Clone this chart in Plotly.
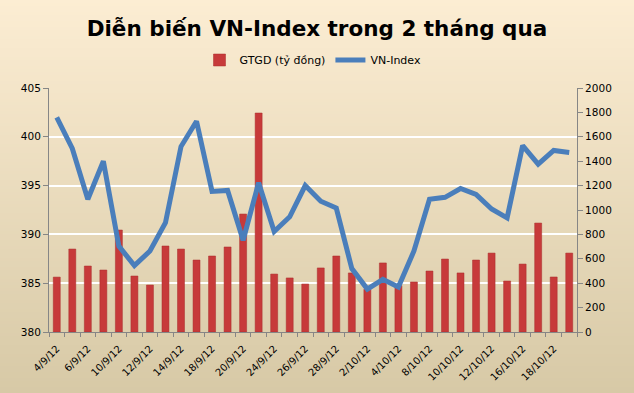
import plotly.graph_objects as go

dates = ["4/9/12", "5/9/12", "6/9/12", "7/9/12", "10/9/12", "11/9/12", "12/9/12", "13/9/12",
         "14/9/12", "17/9/12", "18/9/12", "19/9/12", "20/9/12", "21/9/12", "24/9/12", "25/9/12",
         "26/9/12", "27/9/12", "28/9/12", "1/10/12", "2/10/12", "3/10/12", "4/10/12", "5/10/12",
         "8/10/12", "9/10/12", "10/10/12", "11/10/12", "12/10/12", "15/10/12", "16/10/12",
         "17/10/12", "18/10/12", "19/10/12"]
gtgd = [450, 680, 541, 508, 836, 459, 385, 705, 680, 590, 623, 697, 967, 1795, 475, 443,
        393, 525, 623, 484, 350, 566, 380, 410, 500, 598, 484, 590, 647, 418, 557, 893, 451, 647]
vnindex = [402.0, 398.8, 393.6, 397.5, 388.8, 386.8, 388.3, 391.2, 399.0, 401.6, 394.4, 394.5,
           389.4, 395.3, 390.3, 391.8, 395.0, 393.4, 392.7, 386.5, 384.4, 385.4, 384.6, 388.3,
           393.6, 393.8, 394.7, 394.1, 392.6, 391.7, 399.1, 397.2, 398.6, 398.4]
left_ticks = [380, 385, 390, 395, 400, 405]
right_ticks = [0, 200, 400, 600, 800, 1000, 1200, 1400, 1600, 1800, 2000]

W, H = 634, 393
ML, MR, MT, MB = 49, 57, 88, 61
ph = H - MT - MB

idx = list(range(len(dates)))

fig = go.Figure()
fig.add_trace(go.Bar(
    x=idx, y=gtgd, name="GTGD (tỷ đồng)", yaxis="y", width=0.45,
    marker=dict(color="#C73A3A", line=dict(color="#A92C2C", width=0.5)),
))
fig.add_trace(go.Scatter(
    x=idx, y=vnindex, name="VN-Index", yaxis="y2", mode="lines",
    line=dict(color="#4A7EBB", width=5),
))

# gradient background via stripes
shapes = []
top = (252, 237, 211)
bot = (215, 201, 166)
step = 3
for p in range(0, H, step):
    t = (p + step / 2) / H
    c = tuple(round(top[i] + (bot[i] - top[i]) * t) for i in range(3))
    y0 = (H - MB - p) / ph
    y1 = (H - MB - (p + step)) / ph
    shapes.append(dict(type="rect", xref="paper", yref="paper",
                       x0=-ML / (W - ML - MR) - 0.01, x1=1 + MR / (W - ML - MR) + 0.01,
                       y0=y1, y1=y0, line=dict(width=0),
                       fillcolor="rgb(%d,%d,%d)" % c, layer="below"))

tick_font = dict(family="DejaVu Sans", size=10.5, color="#000000")

fig.update_layout(
    width=W, height=H,
    margin=dict(l=ML, r=MR, t=MT, b=MB, autoexpand=False),
    paper_bgcolor="rgb(240,226,195)",
    plot_bgcolor="rgba(0,0,0,0)",
    shapes=shapes,
    title=dict(text="<b>Diễn biến VN-Index trong 2 tháng qua</b>",
               font=dict(family="DejaVu Sans", size=21.5, color="#000000"),
               x=0.5, xanchor="center", y=1 - 28 / H, yanchor="middle", yref="container"),
    legend=dict(orientation="h", x=0.5, xanchor="center", y=1 + 28 / ph, yanchor="middle",
                font=dict(family="DejaVu Sans", size=11, color="#000000"),
                bgcolor="rgba(0,0,0,0)", itemwidth=30, traceorder="normal"),
    xaxis=dict(
        range=[-0.5, len(dates) - 0.5],
        tickmode="array", tickvals=idx[::2], ticktext=dates[::2],
        tickangle=-45, tickfont=dict(family="DejaVu Sans", size=10, color="#000000"),
        ticks="", showgrid=False, zeroline=False, ticklabelstandoff=6, automargin=False,
        showline=True, linecolor="#868686", linewidth=1,
        minor=dict(tick0=0.5, dtick=1, ticks="outside", ticklen=4, tickcolor="#868686", showgrid=False),
    ),
    yaxis=dict(
        side="right", range=[0, 2000], tickvals=right_ticks, automargin=False,
        ticks="outside", ticklen=5, tickcolor="#868686", tickfont=tick_font,
        showgrid=False, zeroline=False, showline=True, linecolor="#868686", linewidth=1,
    ),
    yaxis2=dict(
        side="left", overlaying="y", range=[380, 405], tickvals=left_ticks, automargin=False,
        ticks="outside", ticklen=5, tickcolor="#868686", tickfont=tick_font,
        showgrid=True, gridcolor="#FFFFFF", gridwidth=1.5,
        zeroline=False, showline=True, linecolor="#868686", linewidth=1,
    ),
    bargap=0.5,
    showlegend=True,
)

fig.write_html("out.html", post_script="document.body.style.margin='0';",
               config={"displayModeBar": False})
